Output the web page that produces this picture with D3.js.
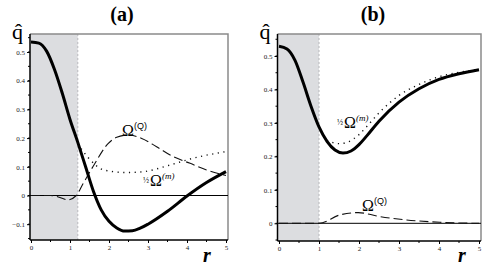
<!DOCTYPE html>
<html>
<head>
<meta charset="utf-8">
<script src="https://cdn.jsdelivr.net/npm/d3@7"></script>
<style>
body{margin:0;background:#fff}
svg{display:block}
</style>
</head>
<body>
<svg width="485" height="269"></svg>
<script>
// panel (a) data
var rA_q = [0,0.2,0.4,0.6,0.8,1.0,1.2,1.4,1.6,1.8,2.0,2.2,2.4,2.6,2.8,3.0,3.5,4.0,4.5,5.0];
var qA   = [0.535,0.531,0.503,0.44,0.357,0.265,0.185,0.1,0.015,-0.05,-0.09,-0.113,-0.124,-0.123,-0.114,-0.1,-0.055,-0.002,0.045,0.083];
var rA_Q = [0,0.5,0.7,0.95,1.16,1.33,1.63,1.97,2.2,2.5,2.84,3.22,3.65,4.08,4.5,5.0];
var omQA = [0,0,-0.005,-0.015,0,0.04,0.11,0.18,0.203,0.211,0.199,0.17,0.135,0.112,0.089,0.07];
var rA_m = [1.2,1.46,1.89,2.45,2.88,3.56,4.16,5.0];
var omMA = [0.18,0.133,0.088,0.08,0.083,0.106,0.13,0.153];

// panel (b) data
var rB_q = [0,0.2,0.4,0.6,0.8,1.0,1.2,1.4,1.6,1.8,2.0,2.2,2.5,3.0,3.5,4.0,4.5,5.0];
var qB   = [0.529,0.521,0.487,0.422,0.35,0.288,0.245,0.219,0.21,0.216,0.235,0.262,0.305,0.362,0.402,0.43,0.447,0.459];
var rB_Q = [0,0.5,1.0,1.52,1.98,2.52,3.19,4.02,5.0];
var omQB = [0,0,0,0.025,0.032,0.02,0.01,0.003,0];
var rB_m = [1.2,1.3,1.5,1.7,2.0,2.2,2.5,3.0,3.5,4.0,4.5,5.0];
var omMB = [0.248,0.243,0.238,0.242,0.265,0.29,0.33,0.382,0.415,0.438,0.451,0.46];

var xTicks = [0,1,2,3,4,5];
var yTicksA = [-0.1,0,0.1,0.2,0.3,0.4,0.5];
var yTicksB = [0,0.1,0.2,0.3,0.4,0.5];

var svg = d3.select("svg");
var serif = "'Liberation Serif','DejaVu Serif',serif";

function zip(xs, ys){ return xs.map(function(x,i){ return [x, ys[i]]; }); }

function panel(o){
  var x = d3.scaleLinear().domain([0,5]).range(o.xr);
  var y = d3.scaleLinear().domain([0,0.5]).range(o.yr);
  var g = svg.append("g");
  var left = o.box[0], right = o.box[1], top = o.box[2], bottom = o.box[3];

  // shaded inner region
  g.append("rect").attr("x", left).attr("y", top)
    .attr("width", x(o.shade) - left).attr("height", bottom - top)
    .attr("fill", "#dcdde0");
  g.append("line").attr("x1", x(o.shade)).attr("x2", x(o.shade))
    .attr("y1", top).attr("y2", bottom)
    .attr("stroke", "#b8b8bc").attr("stroke-width", 1).attr("stroke-dasharray", "2,2");

  // frame top/right
  g.append("path").attr("d", "M"+left+","+top+"H"+right+"V"+bottom)
    .attr("fill", "none").attr("stroke", "#8a8a8a").attr("stroke-width", 1.5);

  // zero line
  g.append("line").attr("x1", left).attr("x2", right)
    .attr("y1", y(0)).attr("y2", y(0)).attr("stroke", "#000").attr("stroke-width", 1);

  // axes
  var yAx = d3.axisLeft(y).tickValues(o.yTicks).tickSize(3).tickPadding(2)
    .tickFormat(function(d){ return d === 0 ? "0" : (d < 0 ? "\u2212" + d3.format(".1f")(-d) : d3.format(".1f")(d)); });
  var ya = g.append("g").attr("transform", "translate("+left+",0)").call(yAx);
  var minorY = d3.range(-0.15, 0.56, 0.05).filter(function(v){ return y(v) >= top && y(v) <= bottom; });
  ya.selectAll(".minor").data(minorY).enter().append("line")
    .attr("x1", -2).attr("x2", 0).attr("y1", function(d){return y(d);}).attr("y2", function(d){return y(d);})
    .attr("stroke", "#000");
  ya.select(".domain").attr("d", "M0,"+top+"V"+bottom).attr("stroke-width", 1.5);

  var xAx = d3.axisBottom(x).tickValues(xTicks).tickSize(3).tickPadding(2).tickFormat(d3.format("d"));
  var xa = g.append("g").attr("transform", "translate(0,"+bottom+")").call(xAx);
  xa.selectAll(".minor").data(d3.range(0.5, 5, 1)).enter().append("line")
    .attr("x1", function(d){return x(d);}).attr("x2", function(d){return x(d);})
    .attr("y1", 0).attr("y2", 2).attr("stroke", "#000");
  xa.select(".domain").attr("d", "M"+left+",0H"+right).attr("stroke-width", 1.5);

  [ya, xa].forEach(function(a){
    a.selectAll("text").attr("font-family", serif).attr("font-size", 7).attr("fill", "#222");
  });

  var line = d3.line().x(function(d){return x(d[0]);}).y(function(d){return y(d[1]);}).curve(d3.curveMonotoneX);

  g.append("path").datum(zip(o.rQ, o.omQ)).attr("d", line)
    .attr("fill", "none").attr("stroke", "#111").attr("stroke-width", 1.1).attr("stroke-dasharray", "9,4");
  g.append("path").datum(zip(o.rM, o.omM)).attr("d", line)
    .attr("fill", "none").attr("stroke", "#111").attr("stroke-width", 1.4).attr("stroke-dasharray", "1.2,4.5");
  g.append("path").datum(zip(o.rq, o.q)).attr("d", line)
    .attr("fill", "none").attr("stroke", "#000").attr("stroke-width", 3);

  // labels
  svg.append("text").attr("x", o.title[0]).attr("y", o.title[1]).attr("text-anchor", "middle")
    .attr("font-family", serif).attr("font-weight", "bold").attr("font-size", 20).text(o.name);
  svg.append("text").attr("x", left - 18).attr("y", 39)
    .attr("font-family", serif).attr("font-size", 22).text("q\u0302");
  svg.append("text").attr("x", o.rLab[0]).attr("y", o.rLab[1])
    .attr("font-family", serif).attr("font-weight", "bold").attr("font-style", "italic").attr("font-size", 20).text("r");

  var tQ = svg.append("text").attr("x", o.labQ[0]).attr("y", o.labQ[1])
    .attr("font-family", serif).attr("font-size", 16).text("\u03A9");
  tQ.append("tspan").attr("font-size", 9).attr("font-family", "'Liberation Sans',sans-serif").attr("dy", -7).text("(Q)");

  var tM = svg.append("text").attr("x", o.labM[0]).attr("y", o.labM[1])
    .attr("font-family", serif).attr("font-size", 16);
  tM.append("tspan").attr("font-size", 8).attr("dy", -3).text("\u00BD");
  tM.append("tspan").attr("dy", 3).attr("dx", 1).text("\u03A9");
  tM.append("tspan").attr("font-size", 9).attr("font-style", "italic").attr("dy", -7).text("(m)");
}

panel({
  name: "(a)", title: [122, 21],
  xr: [31, 226], yr: [195.5, 52], box: [30, 228, 34, 240], shade: 1.2,
  yTicks: yTicksA,
  rq: rA_q, q: qA, rQ: rA_Q, omQ: omQA, rM: rA_m, omM: omMA,
  rLab: [203, 262], labQ: [122, 136], labM: [143, 186]
});

panel({
  name: "(b)", title: [373, 21],
  xr: [279, 479], yr: [223.3, 56], box: [277.5, 481, 34, 241], shade: 1.0,
  yTicks: yTicksB,
  rq: rB_q, q: qB, rQ: rB_Q, omQ: omQB, rM: rB_m, omM: omMB,
  rLab: [458, 262], labQ: [362, 211], labM: [337, 128]
});
</script>
</body>
</html>
